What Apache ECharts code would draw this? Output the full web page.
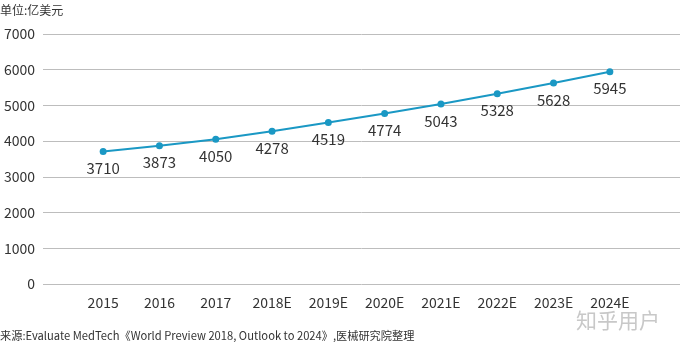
<!DOCTYPE html>
<html><head><meta charset="utf-8">
<script src="https://cdn.jsdelivr.net/npm/echarts@6/dist/echarts.min.js"></script>
<style>html,body{margin:0;padding:0;background:#fff}#c{width:680px;height:347px}</style>
</head><body><div id="c"></div>
<script>
const categories = ['2015','2016','2017','2018E','2019E','2020E','2021E','2022E','2023E','2024E'];
const values = [3710,3873,4050,4278,4519,4774,5043,5328,5628,5945];
const yTicks = [0,1000,2000,3000,4000,5000,6000,7000];
const FONT = '"Noto Sans CJK SC", "Noto Sans", sans-serif';
const chart = echarts.init(document.getElementById('c'));
chart.setOption({
  animation:false,
  textStyle:{fontFamily:FONT},
  graphic:[
    {type:'text',left:0,top:4,style:{text:'单位:亿美元',fontSize:12,fill:'#333',fontFamily:FONT}},
    {type:'text',left:0,top:330,style:{text:'来源:Evaluate MedTech《World Preview 2018, Outlook to 2024》,医械研究院整理',fontSize:11.2,fill:'#333',fontFamily:FONT}},
    {type:'text',left:576,top:310,style:{text:'知乎用户',fontSize:21,fill:'#c8c8c8',fontFamily:FONT}}
  ],
  grid:[
    {left:43,right:0,top:34,bottom:63},
    {left:75,right:42,top:34,bottom:63}
  ],
  xAxis:[
    {gridIndex:0,type:'category',data:categories,show:false},
    {gridIndex:1,type:'category',data:categories,boundaryGap:true,
     axisLine:{show:false},axisTick:{show:false},
     axisLabel:{fontSize:14,color:'#333',margin:12,fontFamily:FONT}}
  ],
  yAxis:[
    {gridIndex:0,type:'value',min:yTicks[0],max:yTicks[yTicks.length-1],interval:1000,
     axisLine:{show:false},axisTick:{show:false},
     axisLabel:{fontSize:14,color:'#333',margin:8,fontFamily:FONT,align:'right',formatter:v=>String(v)},
     splitLine:{lineStyle:{color:'#bdbdbd',width:1}}},
    {gridIndex:1,type:'value',min:0,max:7000,interval:1000,show:false,splitLine:{show:false}}
  ],
  series:[{
    type:'line',xAxisIndex:1,yAxisIndex:1,data:values,
    symbol:'circle',symbolSize:7,
    lineStyle:{color:'#1a98c4',width:2},
    itemStyle:{color:'#1a98c4'},
    label:{show:true,position:'bottom',distance:6,fontSize:15,color:'#333',fontFamily:FONT}
  }]
});
</script></body></html>
